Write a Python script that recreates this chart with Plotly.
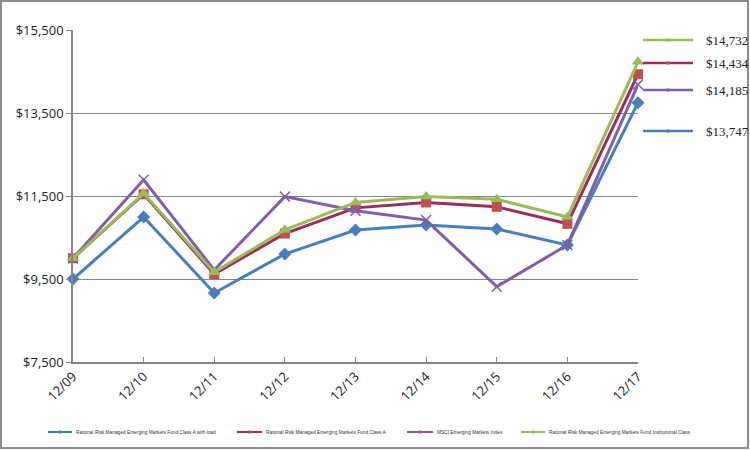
import plotly.graph_objects as go

dates = ["12/09", "12/10", "12/11", "12/12", "12/13", "12/14", "12/15", "12/16", "12/17"]
with_load = [9500, 10994, 9163, 10102, 10681, 10801, 10705, 10319, 13747]
class_a = [10000, 11542, 9620, 10595, 11214, 11345, 11240, 10830, 14434]
msci = [10000, 11890, 9717, 11485, 11146, 10920, 9315, 10320, 14185]
institutional = [10000, 11565, 9665, 10685, 11345, 11490, 11420, 10995, 14732]

names = [
    "Rational Risk Managed Emerging Markets Fund Class A with load",
    "Rational Risk Managed Emerging Markets Fund Class A",
    "MSCI Emerging Markets Index",
    "Rational Risk Managed Emerging Markets Fund Institutional Class",
]
y_ticks = [7500, 9500, 11500, 13500, 15500]
y_ticktext = ["$" + "{:,}".format(v) for v in y_ticks]

series = [with_load, class_a, msci, institutional]
line_colors = ["#4A7EBB", "#9B2D5A", "#7F5FA8", "#9BBB59"]
marker_colors = ["#4A7EBB", "#C0504D", "#7F5FA8", "#9BBB59"]
symbols = ["diamond", "square", "x-thin", "triangle-up"]
sizes = [10, 10, 10, 11]

L, R, T, B = 73, 638, 30, 362
PW, PH = R - L, B - T


def px(x):
    return (x - L) / PW


def py(y):
    return (B - y) / PH


fig = go.Figure()
for s, n, lc, mc, sym, sz in zip(series, names, line_colors, marker_colors, symbols, sizes):
    marker = dict(symbol=sym, size=sz, color=mc)
    if sym == "x-thin":
        marker["line"] = dict(color=mc, width=1.5)
    fig.add_trace(go.Scatter(
        x=list(range(len(dates))), y=s, name=n, mode="lines+markers",
        line=dict(color=lc, width=3), marker=marker, cliponaxis=False,
        showlegend=False,
    ))


def legend_swatch(x0, x1, ypx, idx, lw):
    fig.add_shape(type="line", xref="paper", yref="paper",
                  x0=px(x0), x1=px(x1), y0=py(ypx), y1=py(ypx),
                  line=dict(color=line_colors[idx], width=lw))
    xm = (x0 + x1) / 2
    fig.add_shape(type="rect", xref="paper", yref="paper",
                  x0=px(xm - 1.5), x1=px(xm + 1.5), y0=py(ypx + 1.5), y1=py(ypx - 1.5),
                  line=dict(width=0), fillcolor=marker_colors[idx])


# right-hand value legend (ordered top to bottom)
order = [3, 1, 2, 0]
ys_px = [40, 63, 90, 131]
for idx, ypx in zip(order, ys_px):
    legend_swatch(643, 693, ypx, idx, 2.5)
    fig.add_annotation(xref="paper", yref="paper", x=px(704), y=py(ypx),
                       text="${:,}".format(series[idx][-1]), showarrow=False,
                       xanchor="left", yanchor="middle",
                       font=dict(family="Liberation Serif", size=13, color="#222222"))

# bottom legend
leg_x = [(48, 72), (237, 262), (407, 433), (521, 545)]
for idx, (x0, x1) in enumerate(leg_x):
    legend_swatch(x0, x1, 432, idx, 2)
    fig.add_annotation(xref="paper", yref="paper", x=px(x1 + 2), y=py(432),
                       text=names[idx], showarrow=False, xanchor="left", yanchor="middle",
                       font=dict(family="Liberation Sans", size=4.8, color="#333333"))

# outer frame
fig.add_shape(type="rect", xref="paper", yref="paper",
              x0=px(1), x1=px(748), y0=py(448), y1=py(1),
              line=dict(color="#8C8C8C", width=2))

fig.update_layout(
    width=750, height=450,
    margin=dict(l=L, r=750 - R, t=T, b=450 - B),
    paper_bgcolor="white", plot_bgcolor="white",
    font=dict(family="Open Sans", color="#222222"),
    showlegend=False,
    xaxis=dict(
        tickmode="array", tickvals=list(range(len(dates))), ticktext=dates,
        range=[0, len(dates) - 1], tickangle=-45, showgrid=False,
        showline=True, linecolor="#868686", linewidth=1.5,
        ticks="inside", ticklen=5, tickcolor="#868686",
        tickfont=dict(size=13), zeroline=False, automargin=False,
    ),
    yaxis=dict(
        range=[7500, 15500], tickmode="array", tickvals=y_ticks, ticktext=y_ticktext,
        showgrid=True, gridcolor="#868686", gridwidth=1,
        showline=True, linecolor="#868686", linewidth=1.5,
        ticks="outside", ticklen=5, tickcolor="#868686",
        tickfont=dict(size=13), zeroline=False, automargin=False,
    ),
)

fig.write_html("out.html")
